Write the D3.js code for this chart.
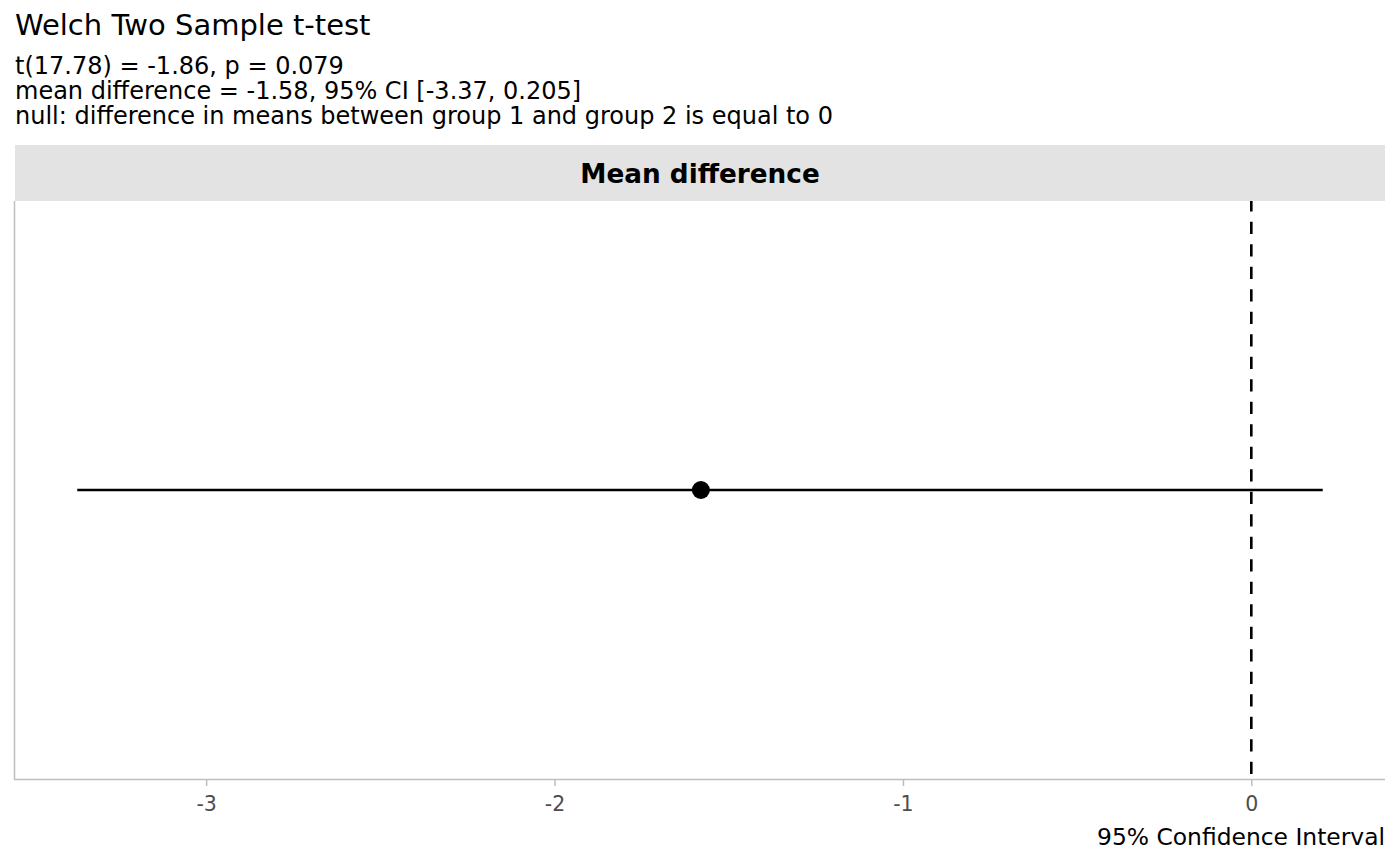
<!DOCTYPE html>
<html><head><meta charset="utf-8">
<script src="https://cdn.jsdelivr.net/npm/d3@7"></script>
<style>body{margin:0;background:#fff}svg{display:block}</style>
</head><body>
<svg id="c" width="1400" height="866"></svg>
<script>
const titleText = "Welch Two Sample t-test";
const subtitleLines = [
  "t(17.78) = -1.86, p = 0.079",
  "mean difference = -1.58, 95% CI [-3.37, 0.205]",
  "null: difference in means between group 1 and group 2 is equal to 0"
];
const stripLabel = "Mean difference";
const xAxisTitle = "95% Confidence Interval";
const estimates = [-1.58];
const ciLow = [-3.37];
const ciHigh = [0.205];
const nullValue = [0];
const xTicks = [-3, -2, -1, 0];

const panel = {left: 15, right: 1385, top: 201, bottom: 779};
const svg = d3.select("#c");
const font = "DejaVu Sans";

// titles
svg.append("text").attr("x", 15).attr("y", 35).attr("font-family", font)
  .attr("font-size", 29).attr("fill", "#000").text(titleText);
svg.selectAll("text.sub").data(subtitleLines).join("text").attr("class", "sub")
  .attr("x", 15).attr("y", (d, i) => 74 + i * 25).attr("font-family", font)
  .attr("font-size", 24).attr("fill", "#000").text(d => d);

// strip
svg.append("rect").attr("x", panel.left).attr("y", 145).attr("width", panel.right - panel.left)
  .attr("height", panel.top - 145).attr("fill", "#e3e3e3");
svg.append("text").attr("x", (panel.left + panel.right) / 2).attr("y", 183)
  .attr("text-anchor", "middle").attr("font-family", font).attr("font-weight", "bold")
  .attr("font-size", 26.3).attr("fill", "#000").text(stripLabel);

// scales
const lo = d3.min(ciLow), hi = d3.max(ciHigh), pad = (hi - lo) * 0.05;
const x = d3.scaleLinear().domain([lo - pad, hi + pad]).range([panel.left, panel.right]);
const y = d3.scalePoint().domain(["Mean difference"]).range([panel.top, panel.bottom]).padding(0.5);

// axes lines
svg.append("line").attr("x1", panel.left - 0.5).attr("x2", panel.left - 0.5)
  .attr("y1", panel.top).attr("y2", panel.bottom + 0.5).attr("stroke", "#bebebe").attr("stroke-width", 1.5);
const xAxis = d3.axisBottom(x).tickValues(xTicks).tickSize(7).tickPadding(10).tickFormat(d3.format("d"));
const gx = svg.append("g").attr("transform", `translate(0,${panel.bottom})`).call(xAxis);
gx.select(".domain").attr("stroke", "#bebebe").attr("stroke-width", 1.5)
  .attr("d", `M${panel.left - 1},0.5H${panel.right}`);
gx.selectAll(".tick line").attr("stroke", "#bebebe").attr("stroke-width", 1.5);
gx.selectAll(".tick text").attr("font-family", font).attr("font-size", 20.5).attr("fill", "#4d4d4d")
  .attr("dy", null).attr("y", 32)
  .text(d => d < 0 ? "-" + Math.abs(d) : d);

svg.append("text").attr("x", panel.right).attr("y", 845).attr("text-anchor", "end")
  .attr("font-family", font).attr("font-size", 23.4).attr("fill", "#000").text(xAxisTitle);

// clip to panel
svg.append("clipPath").attr("id", "pc").append("rect")
  .attr("x", panel.left).attr("y", panel.top).attr("width", panel.right - panel.left)
  .attr("height", panel.bottom - panel.top);
const g = svg.append("g").attr("clip-path", "url(#pc)");

// null line
g.selectAll("line.null").data(nullValue).join("line").attr("class", "null")
  .attr("x1", d => x(d)).attr("x2", d => x(d)).attr("y1", panel.top - 1.8).attr("y2", panel.bottom)
  .attr("stroke", "#000").attr("stroke-width", 2.6).attr("stroke-dasharray", "12.3,10.2");

// CI
const rows = estimates.map((e, i) => ({est: e, lo: ciLow[i], hi: ciHigh[i], key: "Mean difference"}));
g.selectAll("line.ci").data(rows).join("line").attr("class", "ci")
  .attr("x1", d => x(d.lo)).attr("x2", d => x(d.hi)).attr("y1", d => y(d.key)).attr("y2", d => y(d.key))
  .attr("stroke", "#000").attr("stroke-width", 2.4);
g.selectAll("circle.pt").data(rows).join("circle").attr("class", "pt")
  .attr("cx", d => x(d.est)).attr("cy", d => y(d.key)).attr("r", 9).attr("fill", "#000");
</script>
</body></html>
